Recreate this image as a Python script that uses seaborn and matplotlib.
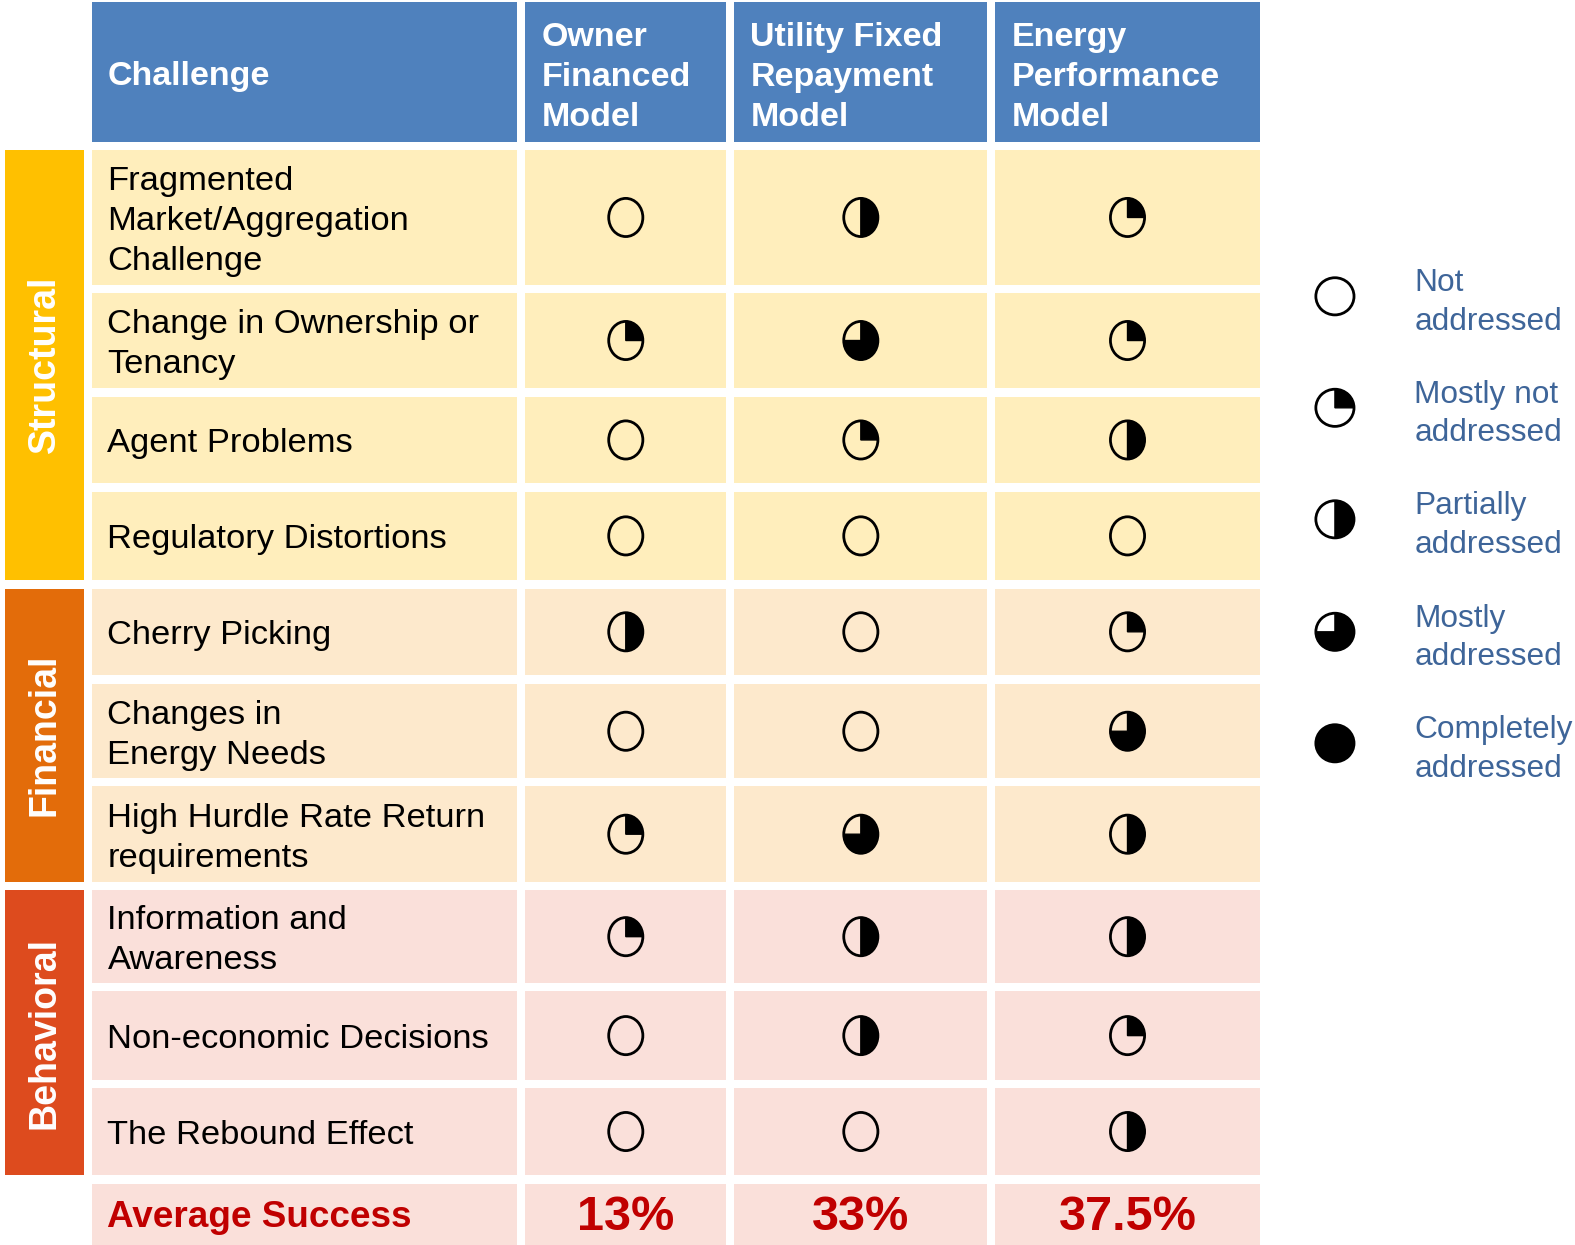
import numpy as np
import matplotlib
matplotlib.use("Agg")
import matplotlib.pyplot as plt
import seaborn as sns
from matplotlib.patches import Rectangle, Ellipse, Polygon

# === Data ===
categories = ["Structural", "Financial", "Behavioral"]
category_rows = [4, 3, 3]
challenges = [
    "Fragmented\nMarket/Aggregation\nChallenge",
    "Change in Ownership or\nTenancy",
    "Agent Problems",
    "Regulatory Distortions",
    "Cherry Picking",
    "Changes in\nEnergy Needs",
    "High Hurdle Rate Return\nrequirements",
    "Information and\nAwareness",
    "Non-economic Decisions",
    "The Rebound Effect",
]
models = ["Owner\nFinanced\nModel", "Utility Fixed\nRepayment\nModel", "Energy\nPerformance\nModel"]
# quarters filled (0 = not addressed ... 4 = completely addressed)
owner_financed = [0, 1, 0, 0, 2, 0, 1, 1, 0, 0]
utility_fixed = [2, 3, 1, 0, 0, 0, 3, 2, 2, 0]
energy_perf = [1, 1, 2, 0, 1, 3, 2, 2, 1, 2]
average_success = ["13%", "33%", "37.5%"]
legend_labels = ["Not\naddressed", "Mostly not\naddressed", "Partially\naddressed",
                 "Mostly\naddressed", "Completely\naddressed"]

# === Style ===
sns.set_theme(style="white")
plt.rcParams['font.family'] = ['Liberation Sans', 'DejaVu Sans']

header_blue = "#4F81BD"
band_colors = ["#FFC000", "#E36C0A", "#DD4B1E"]
row_colors = ["#FFEEBC", "#FDE9CC", "#FAE0DA"]
legend_blue = "#3E6599"
avg_red = "#C00000"

# === Layout (pixels in the 1575x1245 canvas) ===
S = 1575 / 1568
col_edges = [(92, 515), (523, 723), (731, 983), (991, 1254)]
band_x = (5, 84)
header_y = (2, 141)
row_y = [(149, 284), (292, 386), (395, 481), (490, 577), (586, 672),
         (681, 775), (783, 878), (886, 979), (987, 1075), (1083, 1170)]
avg_y = (1179, 1239)

fig = plt.figure(figsize=(15.75, 12.45), dpi=100)
ax = fig.add_axes([0, 0, 1, 1])
ax.set_xlim(0, 1575)
ax.set_ylim(1245, 0)
ax.axis('off')


def rect(x0, x1, y0, y1, color):
    ax.add_patch(Rectangle((x0 * S, y0 * S), (x1 - x0) * S, (y1 - y0) * S,
                           facecolor=color, edgecolor='none'))


def harvey(cx, cy, w, h, level):
    cx, cy, w, h = cx * S, cy * S, w * S, h * S
    if level >= 4:
        ax.add_patch(Ellipse((cx, cy), w, h, facecolor='black', edgecolor='black', lw=2.0))
        return
    ax.add_patch(Ellipse((cx, cy), w, h, facecolor='none', edgecolor='none'))
    if level > 0:
        t = np.radians(np.linspace(90, 90 - 90 * level, 60))
        pts = np.column_stack([cx + w / 2 * np.cos(t), cy - h / 2 * np.sin(t)])
        pts = np.vstack([[cx, cy], pts])
        ax.add_patch(Polygon(pts, closed=True, facecolor='black', edgecolor='black', lw=1.0))
    ax.add_patch(Ellipse((cx, cy), w, h, facecolor='none', edgecolor='black', lw=2.0))


# header
for i, (x0, x1) in enumerate(col_edges):
    rect(x0, x1, *header_y, header_blue)
ax.text(107 * S, 76 * S, "Challenge", color='white', fontsize=24.5, fontweight='bold',
        ha='left', va='center')
for (x0, x1), m in zip(col_edges[1:], models):
    ax.text((x0 + 16) * S, 77 * S, m, color='white', fontsize=24.5, fontweight='bold',
            ha='left', va='center', linespacing=1.37)

# category bands
start = 0
row_cat = []
for k, (cat, n) in enumerate(zip(categories, category_rows)):
    y0 = row_y[start][0]
    y1 = row_y[start + n - 1][1]
    rect(band_x[0], band_x[1], y0, y1, band_colors[k])
    ax.text((band_x[0] + band_x[1]) / 2 * S, (y0 + y1) / 2 * S, cat, color='white',
            fontsize=27, fontweight='bold', rotation=90, ha='center', va='center')
    row_cat += [k] * n
    start += n

# rows
ratings = [owner_financed, utility_fixed, energy_perf]
for r, (y0, y1) in enumerate(row_y):
    for x0, x1 in col_edges:
        rect(x0, x1, y0, y1, row_colors[row_cat[r]])
    cy = (y0 + y1) / 2
    ax.text(107 * S, (cy + 4) * S, challenges[r], color='black', fontsize=24.8,
            ha='left', va='center', linespacing=1.37)
    for c, (x0, x1) in enumerate(col_edges[1:]):
        harvey((x0 + x1) / 2, cy, 34, 38, ratings[c][r])

# average row
for x0, x1 in col_edges:
    rect(x0, x1, *avg_y, row_colors[2])
acy = (avg_y[0] + avg_y[1]) / 2
ax.text(107 * S, (acy + 3) * S, "Average Success", color=avg_red, fontsize=26.6,
        fontweight='bold', ha='left', va='center')
for (x0, x1), v in zip(col_edges[1:], average_success):
    ax.text((x0 + x1) / 2 * S, (acy + 3) * S, v, color=avg_red, fontsize=35,
            fontweight='bold', ha='center', va='center')

# legend
legend_y = [295, 406, 517, 629, 740]
for lvl, (ly, lab) in enumerate(zip(legend_y, legend_labels)):
    harvey(1329, ly, 38, 37, lvl)
    ax.text(1408 * S, (ly + 6) * S, lab, color=legend_blue, fontsize=22.8,
            ha='left', va='center', linespacing=1.37)

plt.savefig("out.png", dpi=100)
